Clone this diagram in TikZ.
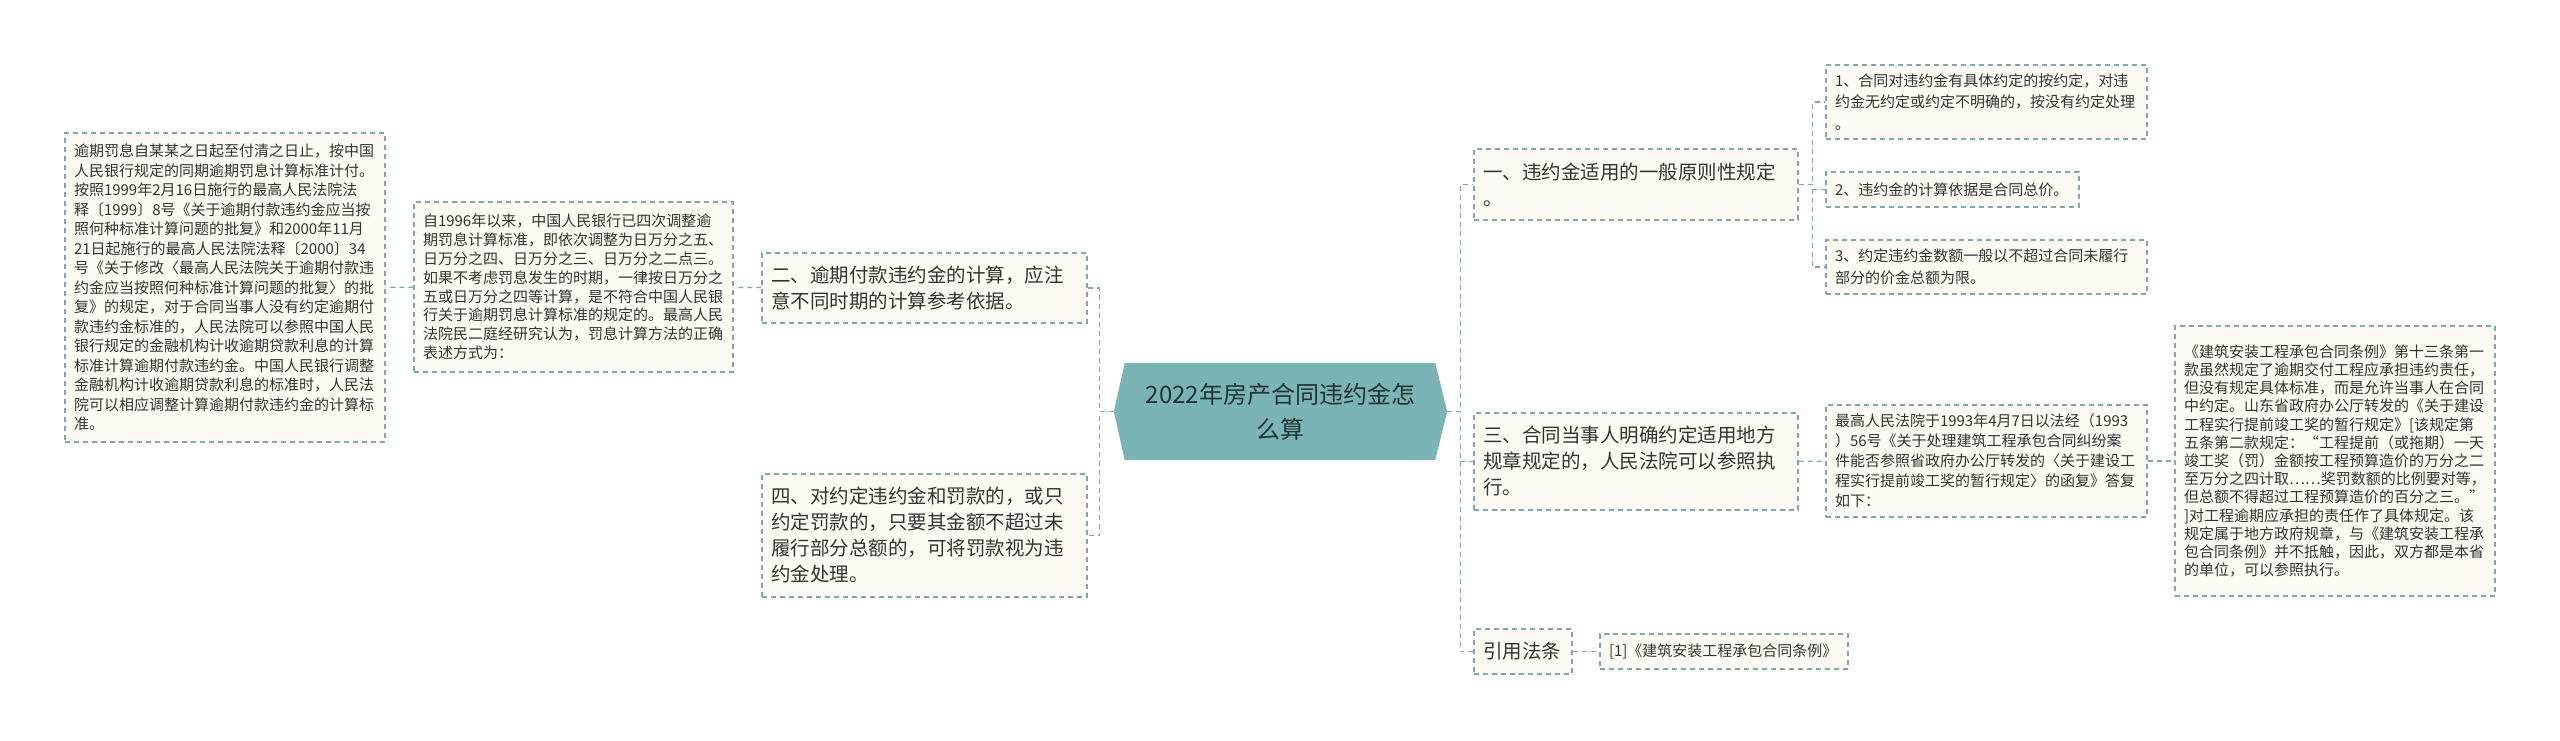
\documentclass[tikz,border=0pt]{standalone}
\usepackage{fontspec}
\setmainfont{Noto Sans CJK SC}
\usepackage{tikz}
\usetikzlibrary{backgrounds}

\definecolor{edgecol}{HTML}{7FA9A9}
\definecolor{boxfill}{HTML}{FDFBF3}
\definecolor{rootfill}{HTML}{7AB4B4}
\definecolor{txtcol}{HTML}{333333}
\definecolor{roottxt}{HTML}{1F3535}

\begin{document}
\begin{tikzpicture}[x=1pt,y=-1pt,
	box/.style={draw=edgecol,fill=boxfill,dash pattern=on 5pt off 4pt,line width=1.3pt,align=left,inner xsep=9pt,inner ysep=0pt,text=txtcol},
	topic/.style={box,font=\fontsize{19.5}{26}\selectfont},
	leaf/.style={box,font=\fontsize{15}{19.5}\selectfont},
	root/.style={minimum width=333pt,minimum height=97pt,align=center,inner sep=0pt,text=roottxt,font=\fontsize{24}{35}\selectfont},
	link/.style={draw=edgecol,dash pattern=on 5pt off 4pt,line width=1.3pt}]
	\useasboundingbox (0,0) rectangle (2560,740);
	% centre
	\node[root] (root) at (1280.5,411.5) {2022年房产合同违约金怎\\么算};
	\begin{scope}[on background layer]
		\fill[white] (0,0) rectangle (2560,740);
		\fill[rootfill] (root.west) -- ([xshift=11pt]root.north west) -- ([xshift=-12pt]root.north east) -- (root.east) -- ([xshift=-12pt]root.south east) -- ([xshift=11pt]root.south west) -- cycle;
	\end{scope}
	% left side
	\node[topic,text width=307pt,minimum height=70pt] (two) at (924.5,288) {二、逾期付款违约金的计算，应注\\意不同时期的计算参考依据。};
	\node[topic,text width=307pt,minimum height=123pt] (four) at (924.5,535.5) {四、对约定违约金和罚款的，或只\\约定罚款的，只要其金额不超过未\\履行部分总额的，可将罚款视为违\\约金处理。};
	\node[leaf,text width=301pt,minimum height=170pt,font=\fontsize{15}{18.8}\selectfont] (rate) at (573.5,287) {自1996年以来，中国人民银行已四次调整逾\\期罚息计算标准，即依次调整为日万分之五、\\日万分之四、日万分之三、日万分之二点三。\\如果不考虑罚息发生的时期，一律按日万分之\\五或日万分之四等计算，是不符合中国人民银\\行关于逾期罚息计算标准的规定的。最高人民\\法院民二庭经研究认为，罚息计算方法的正确\\表述方式为：};
	\node[leaf,text width=302pt,minimum height=309pt] (penalty) at (225,287.5) {逾期罚息自某某之日起至付清之日止，按中国\\人民银行规定的同期逾期罚息计算标准计付。\\按照1999年2月16日施行的最高人民法院法\\释〔1999〕8号《关于逾期付款违约金应当按\\照何种标准计算问题的批复》和2000年11月\\21日起施行的最高人民法院法释〔2000〕34\\号《关于修改〈最高人民法院关于逾期付款违\\约金应当按照何种标准计算问题的批复〉的批\\复》的规定，对于合同当事人没有约定逾期付\\款违约金标准的，人民法院可以参照中国人民\\银行规定的金融机构计收逾期贷款利息的计算\\标准计算逾期付款违约金。中国人民银行调整\\金融机构计收逾期贷款利息的标准时，人民法\\院可以相应调整计算逾期付款违约金的计算标\\准。};
	% right side
	\node[topic,text width=306pt,minimum height=71pt] (one) at (1636,184.5) {一、违约金适用的一般原则性规定\\。};
	\node[topic,text width=306pt,minimum height=97pt] (three) at (1636,461.5) {三、合同当事人明确约定适用地方\\规章规定的，人民法院可以参照执\\行。};
	\node[topic,text width=80pt,minimum height=45pt] (cite) at (1523,651.5) {引用法条};
	\node[leaf,text width=303pt,minimum height=74pt,font=\fontsize{15}{21.5}\selectfont] (one1) at (1986.5,102) {1、合同对违约金有具体约定的按约定，对违\\约金无约定或约定不明确的，按没有约定处理\\。};
	\node[leaf,text width=235pt,minimum height=35pt] (one2) at (1952.5,189.5) {2、违约金的计算依据是合同总价。};
	\node[leaf,text width=303pt,minimum height=54pt,font=\fontsize{15}{21.5}\selectfont] (one3) at (1986.5,267) {3、约定违约金数额一般以不超过合同未履行\\部分的价金总额为限。};
	\node[leaf,text width=303pt,minimum height=112pt,font=\fontsize{15}{20}\selectfont] (court) at (1986.5,461) {最高人民法院于1993年4月7日以法经（1993\\）56号《关于处理建筑工程承包合同纠纷案\\件能否参照省政府办公厅转发的〈关于建设工\\程实行提前竣工奖的暂行规定〉的函复》答复\\如下：};
	\node[leaf,text width=302pt,minimum height=270pt,font=\fontsize{15}{18.2}\selectfont] (rule) at (2335,461) {《建筑安装工程承包合同条例》第十三条第一\\款虽然规定了逾期交付工程应承担违约责任，\\但没有规定具体标准，而是允许当事人在合同\\中约定。山东省政府办公厅转发的《关于建设\\工程实行提前竣工奖的暂行规定》[该规定第\\五条第二款规定：“工程提前（或拖期）一天\\竣工奖（罚）金额按工程预算造价的万分之二\\至万分之四计取……奖罚数额的比例要对等，\\但总额不得超过工程预算造价的百分之三。”\\{}]对工程逾期应承担的责任作了具体规定。该\\规定属于地方政府规章，与《建筑安装工程承\\包合同条例》并不抵触，因此，双方都是本省\\的单位，可以参照执行。};
	\node[leaf,text width=230pt,minimum height=35pt] (law) at (1724,651.5) {[1]《建筑安装工程承包合同条例》};
	% links
	\draw[link] (root.west) -- ++(-14,0) |- (two.east);
	\draw[link] (root.west) -- ++(-14,0) |- (four.east);
	\path[link] (two) edge (rate);
	\path[link] (rate) edge (penalty);
	\draw[link] (root.east) -- ++(13,0) |- (one.west);
	\draw[link] (root.east) -- ++(13,0) |- (three.west);
	\draw[link] (root.east) -- ++(13,0) |- (cite.west);
	\draw[link] (one.east) -- ++(14,0) |- (one1.west);
	\draw[link] (one.east) -- ++(14,0) |- (one2.west);
	\draw[link] (one.east) -- ++(14,0) |- (one3.west);
	\path[link] (three) edge (court);
	\path[link] (court) edge (rule);
	\path[link] (cite) edge (law);
\end{tikzpicture}
\end{document}
